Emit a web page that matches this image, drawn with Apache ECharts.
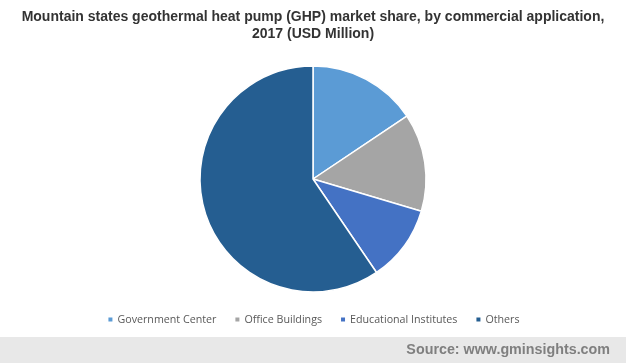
<!DOCTYPE html>
<html><head><meta charset="utf-8">
<script src="https://cdn.jsdelivr.net/npm/echarts@6/dist/echarts.min.js"></script>
<style>html,body{margin:0;padding:0;background:#fff}#c{width:626px;height:363px}</style>
</head><body><div id="c"></div>
<script>
const categories = ["Government Center", "Office Buildings", "Educational Institutes", "Others"];
const values = [15.6, 14.0, 10.9, 59.5];
const colors = ["#5B9BD5", "#A5A5A5", "#4472C4", "#255E91"];
const chart = echarts.init(document.getElementById('c'), null, {renderer: 'canvas'});
chart.setOption({
  animation: false,
  backgroundColor: '#fff',
  title: {
    text: 'Mountain states geothermal heat pump (GHP) market share, by commercial application,\n2017 (USD Million)',
    left: 'center', top: 4,
    textStyle: {fontFamily: 'Liberation Sans, Arial', fontWeight: 'bold', fontSize: 14, color: '#333', lineHeight: 17}
  },
  graphic: [
    {type: 'rect', left: 0, top: 337, shape: {width: 626, height: 26}, style: {fill: '#e8e8e8'}},
    {type: 'text', right: 16, top: 343, style: {text: 'Source: www.gminsights.com', font: 'bold 14.3px "Liberation Sans", Arial', fill: '#7f7f7f'}}
  ],
  legend: {
    top: 309, left: 'center', itemWidth: 6, itemHeight: 6, itemGap: 17, icon: 'rect',
    textStyle: {fontFamily: 'Open Sans', fontSize: 10.7, color: '#595959', padding: [0, 0, 0, -1]},
    data: categories
  },
  series: [{
    type: 'pie', center: [313, 179], radius: [0, 113], startAngle: 90, clockwise: true,
    label: {show: false}, labelLine: {show: false},
    itemStyle: {borderColor: '#fff', borderWidth: 1.5},
    data: categories.map((n, i) => ({name: n, value: values[i], itemStyle: {color: colors[i]}}))
  }]
});
</script></body></html>
